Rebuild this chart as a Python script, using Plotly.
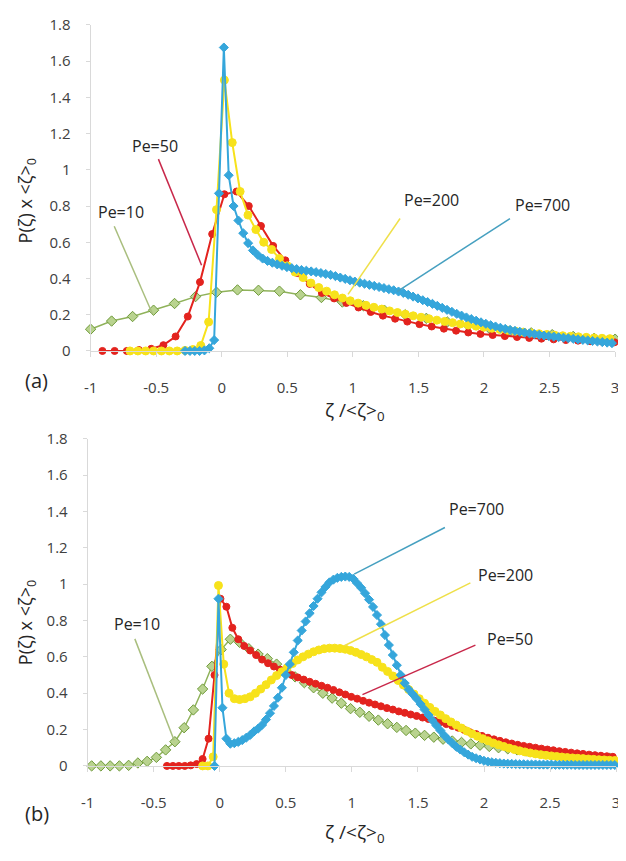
import plotly.graph_objects as go

# ---------------- data: panel (a) ----------------
def grid(start, step, n):
    return [round(start + step * k, 4) for k in range(n)]

a_pe10_x = grid(-1.0, 0.16, 26)
a_pe10_y = [0.12, 0.165, 0.19, 0.225, 0.262, 0.30, 0.324, 0.337, 0.335, 0.33, 0.31, 0.295, 0.27,
            0.25, 0.225, 0.20, 0.18, 0.16, 0.14, 0.125, 0.11, 0.10, 0.09, 0.08, 0.07, 0.065]

a_pe50_x = grid(-0.91, 0.093, 43)
a_pe50_y = [0, 0, 0, 0.005, 0.012, 0.032, 0.08, 0.19, 0.38, 0.645, 0.865, 0.88, 0.80, 0.69, 0.58,
            0.50, 0.43, 0.37, 0.32, 0.29, 0.265, 0.24, 0.215, 0.195, 0.178, 0.162, 0.148, 0.135,
            0.123, 0.112, 0.102, 0.094, 0.088, 0.082, 0.077, 0.072, 0.068, 0.064, 0.06, 0.057,
            0.054, 0.051, 0.048]

a_pe200_x = grid(-0.70, 0.06, 62)
a_pe200_y = [0, 0, 0, 0, 0, 0, 0, 0.003, 0.008, 0.03, 0.16, 0.78, 1.495, 1.15, 0.88, 0.75, 0.67,
             0.60, 0.56, 0.51, 0.47, 0.435, 0.405, 0.375, 0.35, 0.33, 0.31, 0.292, 0.277, 0.264,
             0.252, 0.241, 0.231, 0.221, 0.212, 0.203, 0.194, 0.186, 0.178, 0.17, 0.163, 0.156,
             0.149, 0.143, 0.137, 0.131, 0.125, 0.119, 0.114, 0.109, 0.104, 0.099, 0.095, 0.091,
             0.087, 0.084, 0.081, 0.078, 0.075, 0.072, 0.07, 0.068]

a_pe700_x = grid(-0.28, 0.037, 89)
a_pe700_y = [0, 0, 0, 0, 0.003, 0.015, 0.06, 0.87, 1.675, 0.97, 0.80, 0.72, 0.65, 0.595, 0.555,
             0.53, 0.51, 0.497, 0.487, 0.478, 0.47, 0.463, 0.457, 0.452, 0.447, 0.443, 0.439,
             0.435, 0.43, 0.425, 0.42, 0.413, 0.405, 0.398, 0.39, 0.383, 0.377, 0.371, 0.365,
             0.359, 0.353, 0.347, 0.341, 0.335, 0.328, 0.32, 0.31, 0.30, 0.29, 0.28, 0.27, 0.26,
             0.249, 0.238, 0.227, 0.216, 0.205, 0.195, 0.185, 0.176, 0.167, 0.158, 0.15, 0.142,
             0.135, 0.128, 0.122, 0.116, 0.111, 0.106, 0.101, 0.097, 0.093, 0.089, 0.085, 0.082,
             0.079, 0.076, 0.073, 0.07, 0.067, 0.064, 0.061, 0.058, 0.055, 0.052, 0.049, 0.046,
             0.043]

# ---------------- data: panel (b) ----------------
b_pe10_x = grid(-0.97, 0.07, 57)
b_pe10_y = [0, 0, 0, 0, 0.003, 0.016, 0.025, 0.047, 0.088, 0.133, 0.21, 0.308, 0.423, 0.548,
            0.64, 0.697, 0.68, 0.645, 0.615, 0.59, 0.56, 0.525, 0.49, 0.458, 0.43, 0.40, 0.373,
            0.345, 0.315, 0.295, 0.273, 0.252, 0.232, 0.212, 0.195, 0.18, 0.168, 0.158, 0.147,
            0.137, 0.129, 0.121, 0.114, 0.107, 0.10, 0.094, 0.088, 0.082, 0.077, 0.072, 0.067,
            0.062, 0.058, 0.054, 0.05, 0.046, 0.043]

b_pe50_x = grid(-0.40, 0.045, 76)
b_pe50_y = [0, 0, 0, 0, 0.003, 0.01, 0.038, 0.15, 0.50, 0.92, 0.876, 0.76, 0.697, 0.66, 0.635,
            0.61, 0.585, 0.565, 0.547, 0.53, 0.515, 0.50, 0.487, 0.475, 0.463, 0.452, 0.441,
            0.43, 0.418, 0.405, 0.393, 0.38, 0.37, 0.358, 0.348, 0.338, 0.328, 0.318, 0.31, 0.30,
            0.292, 0.283, 0.275, 0.266, 0.258, 0.249, 0.24, 0.23, 0.22, 0.21, 0.198, 0.185,
            0.175, 0.165, 0.155, 0.146, 0.138, 0.13, 0.123, 0.116, 0.11, 0.105, 0.10, 0.095,
            0.09, 0.086, 0.081, 0.077, 0.073, 0.069, 0.066, 0.062, 0.059, 0.056, 0.053, 0.05]

b_pe200_x = grid(-0.13, 0.04, 79)
b_pe200_y = [0, 0, 0.05, 0.993, 0.56, 0.40, 0.37, 0.365, 0.37, 0.38, 0.40, 0.423, 0.447, 0.473,
             0.497, 0.518, 0.54, 0.563, 0.583, 0.60, 0.615, 0.628, 0.638, 0.645, 0.648, 0.648,
             0.646, 0.642, 0.635, 0.625, 0.613, 0.60, 0.585, 0.57, 0.543, 0.52, 0.495, 0.47,
             0.445, 0.42, 0.395, 0.37, 0.345, 0.322, 0.30, 0.28, 0.26, 0.242, 0.225, 0.208,
             0.192, 0.177, 0.163, 0.15, 0.138, 0.126, 0.116, 0.107, 0.098, 0.09, 0.083, 0.077,
             0.071, 0.066, 0.062, 0.058, 0.055, 0.052, 0.049, 0.046, 0.044, 0.042, 0.04, 0.038,
             0.036, 0.034, 0.033, 0.031, 0.03]

b_pe700_x = grid(-0.04, 0.03, 102)
b_pe700_y = [0, 0.92, 0.32, 0.15, 0.122, 0.125, 0.132, 0.142, 0.155, 0.17, 0.19, 0.205, 0.225,
             0.255, 0.29, 0.33, 0.375, 0.43, 0.50, 0.56, 0.625, 0.69, 0.745, 0.795, 0.84, 0.88,
             0.92, 0.955, 0.985, 1.01, 1.025, 1.035, 1.04, 1.042, 1.04, 1.03, 1.005, 0.98, 0.95,
             0.915, 0.875, 0.83, 0.78, 0.72, 0.665, 0.61, 0.554, 0.50, 0.455, 0.42, 0.395, 0.37,
             0.34, 0.31, 0.28, 0.25, 0.222, 0.195, 0.167, 0.145, 0.125, 0.105, 0.09, 0.075,
             0.062, 0.05, 0.042, 0.035, 0.028, 0.023, 0.02, 0.017, 0.015, 0.013, 0.012, 0.011,
             0.01, 0.009, 0.009, 0.008, 0.008, 0.008, 0.007, 0.007, 0.007, 0.007, 0.006, 0.006,
             0.006, 0.006, 0.006, 0.005, 0.005, 0.005, 0.005, 0.005, 0.005, 0.005, 0.005, 0.005,
             0.005, 0.005]

x_tickvals = [-1, -0.5, 0, 0.5, 1, 1.5, 2, 2.5, 3]
x_ticktext = ["-1", "-0.5", "0", "0.5", "1", "1.5", "2", "2.5", "3"]
y_tickvals = [0, 0.2, 0.4, 0.6, 0.8, 1.0, 1.2, 1.4, 1.6, 1.8]
y_ticktext = ["0", "0.2", "0.4", "0.6", "0.8", "1", "1.2", "1.4", "1.6", "1.8"]

# ---------------- styles ----------------
FONT = "Open Sans"
C_GREEN_LINE = "#8FB25A"
C_GREEN_FILL = "#B9D38F"
C_GREEN_EDGE = "#6F9A3A"
C_RED = "#E3231E"
C_YEL = "#F7E21B"
C_BLUE = "#35A6DB"

# the page body has an 8px margin: size the figure so the page fits the 626x861 window
OFF = 8
W, H = 626 - OFF, 861 - 2 * OFF


def series(x, y, color, sym, size, lw, xa, ya, fill=None, edge=None):
    return go.Scatter(
        x=x, y=y, mode="lines+markers", xaxis=xa, yaxis=ya, cliponaxis=False,
        line=dict(color=color, width=lw),
        marker=dict(symbol=sym, size=size, color=fill or color,
                    line=dict(color=edge or color, width=1)),
        hoverinfo="skip", showlegend=False,
    )


fig = go.Figure()
# panel (a)
fig.add_trace(series(a_pe10_x, a_pe10_y, C_GREEN_LINE, "diamond", 8, 1.5, "x", "y", C_GREEN_FILL, C_GREEN_EDGE))
fig.add_trace(series(a_pe50_x, a_pe50_y, C_RED, "circle", 7, 2, "x", "y"))
fig.add_trace(series(a_pe200_x, a_pe200_y, C_YEL, "circle", 8, 2, "x", "y"))
fig.add_trace(series(a_pe700_x, a_pe700_y, C_BLUE, "diamond", 7, 2, "x", "y"))
# panel (b)
fig.add_trace(series(b_pe10_x, b_pe10_y, C_GREEN_LINE, "diamond", 8, 1.5, "x2", "y2", C_GREEN_FILL, C_GREEN_EDGE))
fig.add_trace(series(b_pe50_x, b_pe50_y, C_RED, "circle", 7, 2, "x2", "y2"))
fig.add_trace(series(b_pe200_x, b_pe200_y, C_YEL, "circle", 8, 2, "x2", "y2"))
fig.add_trace(series(b_pe700_x, b_pe700_y, C_BLUE, "diamond", 7, 2, "x2", "y2"))


def xaxis_cfg(domain, anchor):
    return dict(domain=domain, anchor=anchor, range=[-1, 3], tickvals=x_tickvals,
                ticktext=x_ticktext, showline=True, linecolor="#D9D9D9", linewidth=1,
                ticks="outside", tickcolor="#D9D9D9", ticklen=5, showgrid=False,
                zeroline=False, tickfont=dict(family=FONT, size=15, color="#404040"),
                ticklabelstandoff=18, ticklabeloverflow="allow")


def yaxis_cfg(domain, anchor):
    return dict(domain=domain, anchor=anchor, range=[0, 1.8], tickvals=y_tickvals,
                ticktext=y_ticktext, showline=True, linecolor="#D9D9D9", linewidth=1,
                ticks="outside", tickcolor="#D9D9D9", ticklen=4, showgrid=False,
                zeroline=False, tickfont=dict(family=FONT, size=15, color="#404040"),
                ticklabelstandoff=12, ticklabeloverflow="allow")


def fx(px):
    return (px - OFF) / W


def fy(py):
    return 1 - (py - OFF) / H


fig.update_layout(
    width=W, height=H, margin=dict(l=0, r=0, t=0, b=0),
    paper_bgcolor="white", plot_bgcolor="white", showlegend=False,
    xaxis=xaxis_cfg([fx(85), fx(619)], "y"),
    yaxis=yaxis_cfg([fy(348), fy(14)], "x"),
    xaxis2=xaxis_cfg([fx(82), fx(620)], "y2"),
    yaxis2=yaxis_cfg([fy(773), fy(438)], "x2"),
    font=dict(family=FONT, color="#262626"),
)

# callout lines: (x_label_end, y_label_end, x_curve_end, y_curve_end)
callouts = [
    ("x", "y", -0.483, 1.059, -0.154, 0.473, "#C8284A"),
    ("x", "y", -0.82, 0.688, -0.528, 0.204, "#A9BE7E"),
    ("x", "y", 1.36, 0.731, 0.963, 0.312, "#EFE04A"),
    ("x", "y", 2.198, 0.731, 1.337, 0.328, "#46A0C0"),
    ("x2", "y2", -0.643, 0.699, -0.346, 0.141, "#A9BE7E"),
    ("x2", "y2", 1.704, 1.312, 1.017, 1.055, "#46A0C0"),
    ("x2", "y2", 1.897, 1.007, 0.943, 0.661, "#EFE04A"),
    ("x2", "y2", 1.935, 0.665, 1.08, 0.392, "#C8284A"),
]
for xr, yr, x0, y0, x1, y1, col in callouts:
    fig.add_shape(type="line", xref=xr, yref=yr, x0=x0, y0=y0, x1=x1, y1=y1,
                  line=dict(color=col, width=1.5))

labels = [
    ("x", "y", -0.506, 1.134, "Pe=50"),
    ("x", "y", -0.768, 0.769, "Pe=10"),
    ("x", "y", 1.60, 0.833, "Pe=200"),
    ("x", "y", 2.445, 0.806, "Pe=700"),
    ("x2", "y2", -0.628, 0.78, "Pe=10"),
    ("x2", "y2", 1.946, 1.414, "Pe=700"),
    ("x2", "y2", 2.16, 1.048, "Pe=200"),
    ("x2", "y2", 2.2, 0.70, "Pe=50"),
]
for xr, yr, x, y, t in labels:
    fig.add_annotation(xref=xr, yref=yr, x=x, y=y, text=t, showarrow=False,
                       font=dict(family=FONT, size=16, color="#262626"))


def pa(px, py, text, size, angle=0):
    fig.add_annotation(xref="paper", yref="paper", x=fx(px), y=fy(py), text=text,
                       showarrow=False, textangle=angle,
                       font=dict(family=FONT, size=size, color="#262626"),
                       xanchor="center", yanchor="middle")


pa(30, 378, "(a)", 20)
pa(30, 822, "(b)", 20)
pa(354, 410, "ζ /&lt;ζ&gt;<sub>0</sub>", 19)
pa(354, 842, "ζ /&lt;ζ&gt;<sub>0</sub>", 19)
pa(20, 194, "P(ζ) x &lt;ζ&gt;<sub>0</sub>", 18, -90)
pa(20, 626, "P(ζ) x &lt;ζ&gt;<sub>0</sub>", 18, -90)

fig.write_html("out.html")
